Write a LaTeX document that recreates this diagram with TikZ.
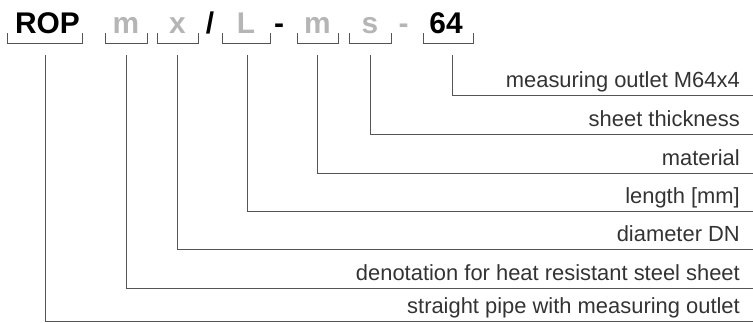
\documentclass[tikz,border=0pt]{standalone}
\usepackage{fontspec}
\setmainfont{Liberation Sans}
\definecolor{ink}{HTML}{333333}
\definecolor{lgrey}{HTML}{B5B5B5}
\definecolor{linec}{HTML}{555555}
\begin{document}
\begin{tikzpicture}[x=1bp,y=-1bp,
  code/.style={font=\fontsize{30}{30}\selectfont\bfseries, inner sep=0pt, anchor=base},
  dim/.style={code, text=lgrey},
  blk/.style={code, text=black},
  lbl/.style={font=\fontsize{22}{22}\selectfont, text=ink, inner sep=0pt, anchor=base east},
  brk/.style={draw=linec, line width=0.9bp},
  conn/.style={draw=linec, line width=0.9bp}]
\useasboundingbox (0,0) rectangle (753,322);
% code letters
\node[blk] (rop) at (47.5,33.3) {ROP};
\node[dim] (cm) at (126,33.3) {m};
\node[dim] (cx) at (177.5,33.3) {x};
\node[blk] (sl) at (210,33.3) {/};
\node[dim] (cl) at (246,33.3) {L};
\node[blk] (d1) at (279,33.3) {-};
\node[dim] (cm2) at (317.5,33.3) {m};
\node[dim] (cs) at (370,33.3) {s};
\node[dim] (d2) at (403.5,33.3) {-};
\node[blk] (c64) at (446,33.3) {64};
% brackets
\draw[brk] (7,33) |- (82,43.5) -- (82,33);
\draw[brk] (105,33) |- (147,43.5) -- (147,33);
\draw[brk] (157,33) |- (198,43.5) -- (198,33);
\draw[brk] (222.5,33) |- (270,43.5) -- (270,33);
\draw[brk] (297,33) |- (338,43.5) -- (338,33);
\draw[brk] (349,33) |- (391,43.5) -- (391,33);
\draw[brk] (423.3,33) |- (473.3,43.5) -- (473.3,33);
% connector start points
\coordinate (s1) at (452,55);
\coordinate (s2) at (370.3,55);
\coordinate (s3) at (317.7,55);
\coordinate (s4) at (247,55);
\coordinate (s5) at (177.7,55);
\coordinate (s6) at (126.7,55);
\coordinate (s7) at (45,55);
% connector ends
\coordinate (e1) at (753,95);
\coordinate (e2) at (753,134);
\coordinate (e3) at (753,173);
\coordinate (e4) at (753,211);
\coordinate (e5) at (753,249);
\coordinate (e6) at (753,288);
\coordinate (e7) at (753,321);
\draw[conn] (s1) |- (e1);
\draw[conn] (s2) |- (e2);
\draw[conn] (s3) |- (e3);
\draw[conn] (s4) |- (e4);
\draw[conn] (s5) |- (e5);
\draw[conn] (s6) |- (e6);
\draw[conn] (s7) |- (e7);
% labels
\node[lbl] (l1) at (740,87.5) {measuring outlet M64x4};
\node[lbl] (l2) at (740,126.5) {sheet thickness};
\node[lbl] (l3) at (740,165.5) {material};
\node[lbl] (l4) at (740,203.5) {length [mm]};
\node[lbl] (l5) at (740,241) {diameter DN};
\node[lbl] (l6) at (740,280) {denotation for heat resistant steel sheet};
\node[lbl] (l7) at (740,313) {straight pipe with measuring outlet};
\end{tikzpicture}
\end{document}
